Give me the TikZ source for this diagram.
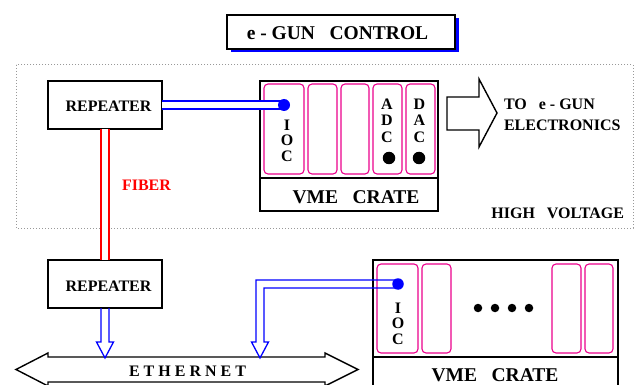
\documentclass[tikz,border=0pt]{standalone}
\usepackage{fontspec}
\setmainfont{Liberation Serif}
\usetikzlibrary{calc,shadows}
\begin{document}
\begin{tikzpicture}[x=1pt,y=-1pt,
  every node/.style={font=\fontsize{16}{15.5}\selectfont\bfseries, inner sep=0pt, outer sep=0pt},
  box/.style={draw=black, line width=1.4pt, fill=white},
  slot/.style={draw=magenta, line width=1.1pt, rounded corners=4pt},
  bigfont/.style={font=\fontsize{19.5}{20}\selectfont\bfseries},
  bluedouble/.style={draw=blue, line width=1.3pt, double=white, double distance=6.7pt},
  reddouble/.style={draw=red, line width=1.3pt, double=white, double distance=6.7pt},
  bluearrow/.style={draw=blue, line width=1.3pt, line join=miter},
  bluedot/.style={circle, fill=blue},
  blackdot/.style={circle, fill=black},
  stack/.style={align=center}
]
\useasboundingbox (0,0) rectangle (635,385);

% high voltage area
\draw[gray!80, line width=1pt, dash pattern=on 1pt off 2pt] (16,65) rectangle (633,228);

% title
\node[box, minimum width=228, minimum height=34,
  drop shadow={shadow xshift=3.5pt, shadow yshift=-3.5pt, fill=blue, opacity=1}] (title) at (341,32) {};
\node[bigfont] (titletext) at (337.5,33.5) {e - GUN\ \ \ CONTROL};

% repeaters
\node[box, minimum width=114, minimum height=48] (rep1) at (105,105) {};
\node (rep1t) at (108.5,106) {REPEATER};
\node[box, minimum width=114, minimum height=48] (rep2) at (105,284) {};
\node (rep2t) at (108.5,286) {REPEATER};

% crate 1
\node[box, minimum width=178, minimum height=130] (crate1) at (349,146) {};
\draw[line width=1.4pt] (260,178) -- (438,178);
\node[bigfont] (crate1t) at (356,197) {VME\ \ \ CRATE};
\node[slot, minimum width=40, minimum height=90] (s11) at (284,129) {};
\node[slot, minimum width=29, minimum height=90] (s12) at (322.5,129) {};
\node[slot, minimum width=28, minimum height=90] (s13) at (355,129) {};
\node[slot, minimum width=29, minimum height=90] (s14) at (387.5,129) {};
\node[slot, minimum width=29, minimum height=90] (s15) at (420.5,129) {};
\node[stack] (ioc1t) at (287,140.5) {I\\O\\C};
\node[stack, font=\fontsize{16}{16.5}\selectfont\bfseries] (adct) at (387,120.5) {A\\D\\C};
\node[stack, font=\fontsize{16}{16.5}\selectfont\bfseries] (dact) at (419.5,120.5) {D\\A\\C};
\node[blackdot, minimum size=12.5] (adcdot) at (389,158) {};
\node[blackdot, minimum size=12.5] (dacdot) at (419,158) {};

% link repeater -> IOC
\draw[bluedouble] (rep1.east |- 0,105) -- (284,105);
\node[bluedot, minimum size=12] (ioc1dot) at (284,105) {};

% fiber
\draw[reddouble] (rep1.south) -- (rep2.north);
\node[text=red, anchor=west] (fiber) at (122,185) {FIBER};

% block arrow
\draw[line width=1.4pt, line join=miter] (447,97) -- (479,97) -- (479,79) -- (497,113) -- (479,147) -- (479,130) -- (447,130) -- cycle;
\node[anchor=west] (to1) at (504,104) {TO\ \ \ e - GUN};
\node[anchor=west] (to2) at (504,125) {ELECTRONICS};
\node[anchor=east] (hv) at (624,213) {HIGH\ \ \ VOLTAGE};

% ethernet
\draw[line width=1.4pt, line join=miter, fill=white] (16,369.5) -- (48,353) -- (48,357) -- (325,357) -- (325,353) -- (358,369.5) -- (325,386) -- (325,382) -- (48,382) -- (48,386) -- cycle;
\node (eth) at (187.5,371) {E T H E R N E T};

% crate 2
\node[box, minimum width=245, minimum height=140] (crate2) at (495.5,330) {};
\draw[line width=1.4pt] (373,357) -- (618,357);
\node[bigfont] (crate2t) at (495,375) {VME\ \ \ CRATE};
\node[slot, minimum width=41, minimum height=89] (s21) at (397.5,308.5) {};
\node[slot, minimum width=29, minimum height=89] (s22) at (436.5,308.5) {};
\node[slot, minimum width=29, minimum height=89] (s23) at (566.5,308.5) {};
\node[slot, minimum width=28, minimum height=89] (s24) at (599,308.5) {};
\node[stack] (ioc2t) at (398,323.5) {I\\O\\C};
\foreach \i/\x in {1/478,2/495,3/512,4/529}
  \node[blackdot, minimum size=8.5] (el\i) at (\x,308) {};

% repeater 2 -> ethernet
\draw[bluearrow] ($(rep2.south)+(-4,0)$) -- ++(0,34) -- ++(-4.5,0) -- ++(8.5,16) -- ++(8.5,-16) -- ++(-4.5,0) -- ++(0,-34);

% IOC 2 -> ethernet
\coordinate (ioc2c) at (398,284);
\draw[bluearrow] ($(ioc2c)+(0,-4)$) -- (256,280) -- (256,342) -- (251.5,342) -- (260,358) -- (268.5,342) -- (264,342) -- (264,288) -- ($(ioc2c)+(0,4)$);
\node[bluedot, minimum size=11.5] (ioc2dot) at (ioc2c) {};
\end{tikzpicture}
\end{document}
